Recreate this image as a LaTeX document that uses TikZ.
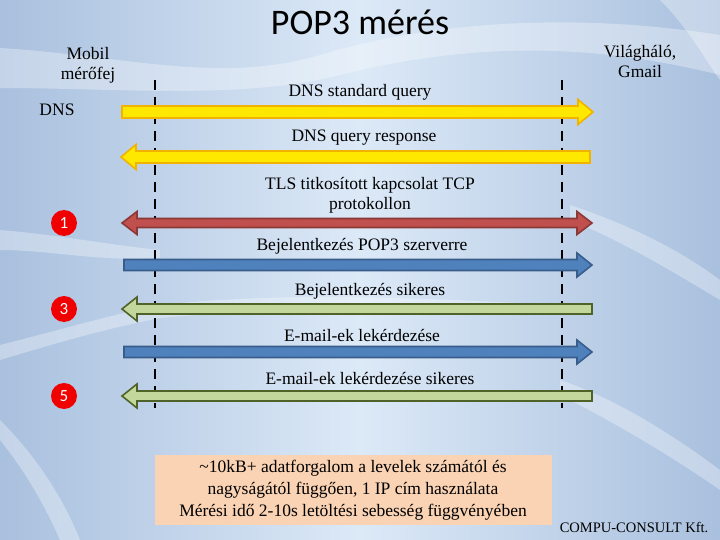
\documentclass[tikz,border=0pt]{standalone}
\usepackage{fontspec}
\setmainfont{Liberation Serif}
\newfontfamily\titlefont{Carlito}
\usetikzlibrary{calc}
\definecolor{bgedge}{HTML}{A9C0DE}
\definecolor{bgmid}{HTML}{DCE9F7}
\definecolor{ylwfill}{HTML}{FFE800}
\definecolor{ylwdraw}{HTML}{F2B300}
\definecolor{redfill}{HTML}{C0504D}
\definecolor{reddraw}{HTML}{8C3836}
\definecolor{blufill}{HTML}{4F81BD}
\definecolor{bludraw}{HTML}{385D8A}
\definecolor{grnfill}{HTML}{C3D69B}
\definecolor{grndraw}{HTML}{4F6228}
\definecolor{peach}{HTML}{FAD3B4}
\definecolor{numred}{HTML}{F00000}
\tikzset{
  lbl/.style={font=\fontsize{17.5}{20}\selectfont, align=center, inner sep=0pt},
  lifeline/.style={line width=2.5pt, dash pattern=on 10pt off 7pt, black},
  numcirc/.style={circle, fill=numred, text=white, minimum size=26pt, inner sep=0pt, font=\titlefont\fontsize{17}{17}\selectfont},
  blockarrow/.style={line width=1.6pt, line join=miter},
  swoosh/.style={fill=white, opacity=0.32, draw=none}
}
% right-pointing arrow from #1 (tail) to #2 (tip); #3 shaft half-width, #4 head half-width, #5 style
\newcommand{\rblock}[5]{%
  \draw[blockarrow,#5] ($(#1)+(0,-#3)$) -- ($(#2)+(-15,-#3)$) -- ($(#2)+(-15,-#4)$) -- (#2)
    -- ($(#2)+(-15,#4)$) -- ($(#2)+(-15,#3)$) -- ($(#1)+(0,#3)$) -- cycle;}
% left-pointing arrow: #1 tip (left), #2 tail (right)
\newcommand{\lblock}[5]{%
  \draw[blockarrow,#5] ($(#2)+(0,-#3)$) -- ($(#1)+(15,-#3)$) -- ($(#1)+(15,-#4)$) -- (#1)
    -- ($(#1)+(15,#4)$) -- ($(#1)+(15,#3)$) -- ($(#2)+(0,#3)$) -- cycle;}
% double-headed
\newcommand{\dblock}[5]{%
  \draw[blockarrow,#5] ($(#1)+(15,-#3)$) -- ($(#2)+(-15,-#3)$) -- ($(#2)+(-15,-#4)$) -- (#2)
    -- ($(#2)+(-15,#4)$) -- ($(#2)+(-15,#3)$) -- ($(#1)+(15,#3)$) -- ($(#1)+(15,#4)$) -- (#1)
    -- ($(#1)+(15,-#4)$) -- cycle;}
\begin{document}
\begin{tikzpicture}[x=1pt,y=-1pt]
% background
\useasboundingbox (0,0) rectangle (720,540);
\shade[left color=bgedge, right color=bgmid, shading angle=90] (0,0) rectangle (360,540);
\shade[left color=bgmid, right color=bgedge, shading angle=90] (360,0) rectangle (720,540);
% swooshes
\fill[swoosh] (0,48) .. controls (120,55) and (220,85) .. (320,55) .. controls (420,25) and (560,10) .. (720,35)
  -- (720,75) .. controls (580,40) and (460,45) .. (340,75) .. controls (240,100) and (120,88) .. (0,88) -- cycle;
\fill[swoosh] (0,230) .. controls (60,235) and (110,245) .. (160,250) -- (160,258) .. controls (100,262) and (50,250) .. (0,250) -- cycle;
\fill[swoosh] (0,345) .. controls (60,330) and (110,315) .. (160,305) .. controls (300,290) and (450,300) .. (560,305) -- (560,312) .. controls (420,312) and (300,305) .. (160,318) .. controls (100,330) and (50,345) .. (0,360) -- cycle;
\fill[swoosh] (570,205) .. controls (630,225) and (680,250) .. (720,280) -- (720,300) .. controls (670,270) and (620,240) .. (570,220) -- cycle;
\fill[swoosh] (560,380) .. controls (620,400) and (680,440) .. (720,470) -- (720,490) .. controls (670,455) and (610,420) .. (560,395) -- cycle;
\fill[swoosh] (0,420) .. controls (30,450) and (60,490) .. (80,540) -- (60,540) .. controls (40,495) and (20,465) .. (0,440) -- cycle;
\fill[swoosh] (720,0) -- (660,0) .. controls (690,30) and (705,60) .. (720,80) -- cycle;

% title and end labels
\node[font=\titlefont\fontsize{36}{36}\selectfont] (title) at (360,22) {POP3 mérés};
\node[lbl] (mobil) at (88,65) {Mobil\\mérőfej};
\node[lbl] (vilag) at (640,62) {Világháló,\\Gmail};
\node[lbl] (dns) at (57,110) {DNS};

% lifelines
\coordinate (Ltop) at (155,80);
\coordinate (Lbot) at (155,408);
\coordinate (Rtop) at (562,80);
\coordinate (Rbot) at (562,408);
\draw[lifeline] (Ltop) -- (Lbot);
\draw[lifeline] (Rtop) -- (Rbot);

% arrow end points
\coordinate (a1s) at (122,112); \coordinate (a1e) at (593,112);
\coordinate (a2s) at (121,157); \coordinate (a2e) at (590,157);
\coordinate (a3s) at (122,223); \coordinate (a3e) at (592,223);
\coordinate (a4s) at (124,265); \coordinate (a4e) at (592,265);
\coordinate (a5s) at (122,309); \coordinate (a5e) at (592,309);
\coordinate (a6s) at (124,352); \coordinate (a6e) at (592,352);
\coordinate (a7s) at (122,396); \coordinate (a7e) at (592,396);

\rblock{a1s}{a1e}{6}{12.5}{fill=ylwfill, draw=ylwdraw}
\lblock{a2s}{a2e}{6}{12.5}{fill=ylwfill, draw=ylwdraw}
\dblock{a3s}{a3e}{4.5}{11.5}{fill=redfill, draw=reddraw}
\rblock{a4s}{a4e}{5.5}{12}{fill=blufill, draw=bludraw}
\lblock{a5s}{a5e}{5}{12}{fill=grnfill, draw=grndraw}
\rblock{a6s}{a6e}{5.5}{12}{fill=blufill, draw=bludraw}
\lblock{a7s}{a7e}{5}{12}{fill=grnfill, draw=grndraw}

% labels
\node[lbl] (l1) at (360,92) {DNS standard query};
\node[lbl] (l2) at (364,138) {DNS query response};
\node[lbl] (l3) at (370,195) {TLS titkosított kapcsolat TCP\\protokollon};
\node[lbl] (l4) at (362,246) {Bejelentkezés POP3 szerverre};
\node[lbl] (l5) at (370,291) {Bejelentkezés sikeres};
\node[lbl] (l6) at (362,335) {E-mail-ek lekérdezése};
\node[lbl] (l7) at (370,378) {E-mail-ek lekérdezése sikeres};

% numbers
\node[numcirc] (n1) at (64,223) {1};
\node[numcirc] (n3) at (64,309) {3};
\node[numcirc] (n5) at (64,396) {5};

% summary box
\node[fill=peach, minimum width=397pt, minimum height=70pt, align=center, inner sep=2pt,
  font=\fontsize{17.5}{22}\selectfont] (box) at (353,490)
  {\textasciitilde10kB+ adatforgalom a levelek számától és\\nagyságától függően, 1 IP cím használata\\Mérési idő 2-10s letöltési sebesség függvényében};
\node[font=\fontsize{14.5}{14.5}\selectfont, inner sep=0pt] (cc) at (634,527) {COMPU-CONSULT Kft.};
\end{tikzpicture}
\end{document}
